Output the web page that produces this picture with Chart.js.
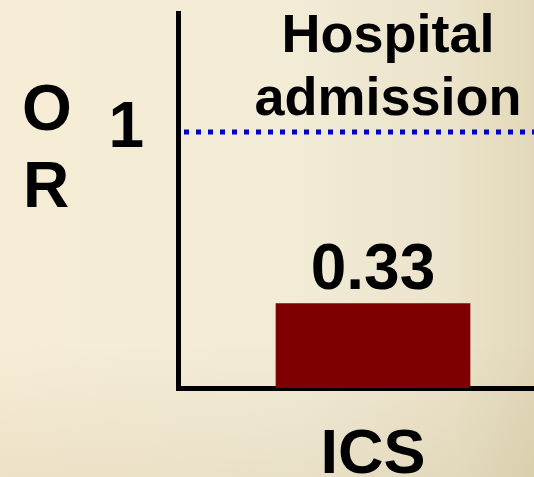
<!DOCTYPE html>
<html>
<head>
<meta charset="utf-8">
<script src="https://cdn.jsdelivr.net/npm/chart.js@4.4.0/dist/chart.umd.min.js"></script>
<style>
  html, body { margin: 0; padding: 0; }
  body {
    width: 534px; height: 477px; overflow: hidden;
    background:
      linear-gradient(to bottom, rgba(0,0,0,0) 72%, rgba(140,115,50,0.09) 100%),
      linear-gradient(to right, #f7edd6 0%, #f2ebd6 55%, #ebe3ca 85%, #e2d8b9 100%);
  }
  canvas { display: block; }
</style>
</head>
<body>
<!-- canvas is wider than the window: the category centre sits right of the visible middle -->
<canvas id="orChart" width="568" height="477"></canvas>
<script>
const categories = ['ICS'];
const oddsRatios = [0.33];
const referenceValue = 1;
const yTickValues = [1];
const titleLines = ['Hospital', 'admission'];
const yTitleLetters = ['O', 'R'];

const FONT = "'Liberation Sans', Arial, sans-serif";

function noLabelPadding(scale) {
  scale.paddingTop = 0;
  scale.paddingBottom = 0;
  scale.paddingLeft = 0;
  scale.paddingRight = 0;
}

// dotted line at OR = 1, headline text, value label and the stacked "O R"
const overlay = {
  id: 'overlay',
  afterDatasetsDraw(chart) {
    const ctx = chart.ctx;
    const area = chart.chartArea;
    const y = chart.scales.y.getPixelForValue(referenceValue);
    ctx.save();
    ctx.strokeStyle = '#0000c8';
    ctx.lineWidth = 5;
    ctx.setLineDash([5, 7]);
    ctx.beginPath();
    ctx.moveTo(area.left + 6, y);
    ctx.lineTo(area.right, y);
    ctx.stroke();
    ctx.setLineDash([]);

    ctx.fillStyle = '#000';
    ctx.textAlign = 'center';
    ctx.textBaseline = 'alphabetic';
    ctx.font = 'bold 54px ' + FONT;
    ctx.fillText(titleLines[0], 388, 52);
    ctx.fillText(titleLines[1], 388, 115);

    ctx.font = 'bold 64px ' + FONT;
    chart.getDatasetMeta(0).data.forEach((bar, i) => {
      ctx.fillText(oddsRatios[i].toFixed(2), bar.x, bar.y - 15);
    });

    ctx.fillText(yTitleLetters[0], 47, 130);
    ctx.fillText(yTitleLetters[1], 46, 207);
    ctx.restore();
  }
};

new Chart(document.getElementById('orChart'), {
  type: 'bar',
  data: {
    labels: categories,
    datasets: [{
      data: oddsRatios,
      backgroundColor: '#7f0000',
      borderWidth: 0,
      barThickness: 194
    }]
  },
  options: {
    responsive: false,
    animation: false,
    layout: { padding: { left: 0, top: 13, right: 0, bottom: 0 } },
    plugins: { legend: { display: false }, tooltip: { enabled: false } },
    scales: {
      x: {
        grid: { display: false },
        border: { display: true, color: '#000', width: 5 },
        ticks: { color: '#000', font: { family: FONT, size: 63, weight: 'bold' }, padding: 22 },
        afterFit(scale) { scale.height = 89; noLabelPadding(scale); }
      },
      y: {
        min: 0,
        max: 1.465,
        grid: { display: false },
        border: { display: true, color: '#000', width: 5 },
        afterBuildTicks(scale) { scale.ticks = yTickValues.map(v => ({ value: v })); },
        ticks: { color: '#000', font: { family: FONT, size: 64, weight: 'bold' }, padding: 26, labelOffset: -3 },
        afterFit(scale) { scale.width = 178; noLabelPadding(scale); }
      }
    }
  },
  plugins: [overlay]
});
</script>
</body>
</html>
